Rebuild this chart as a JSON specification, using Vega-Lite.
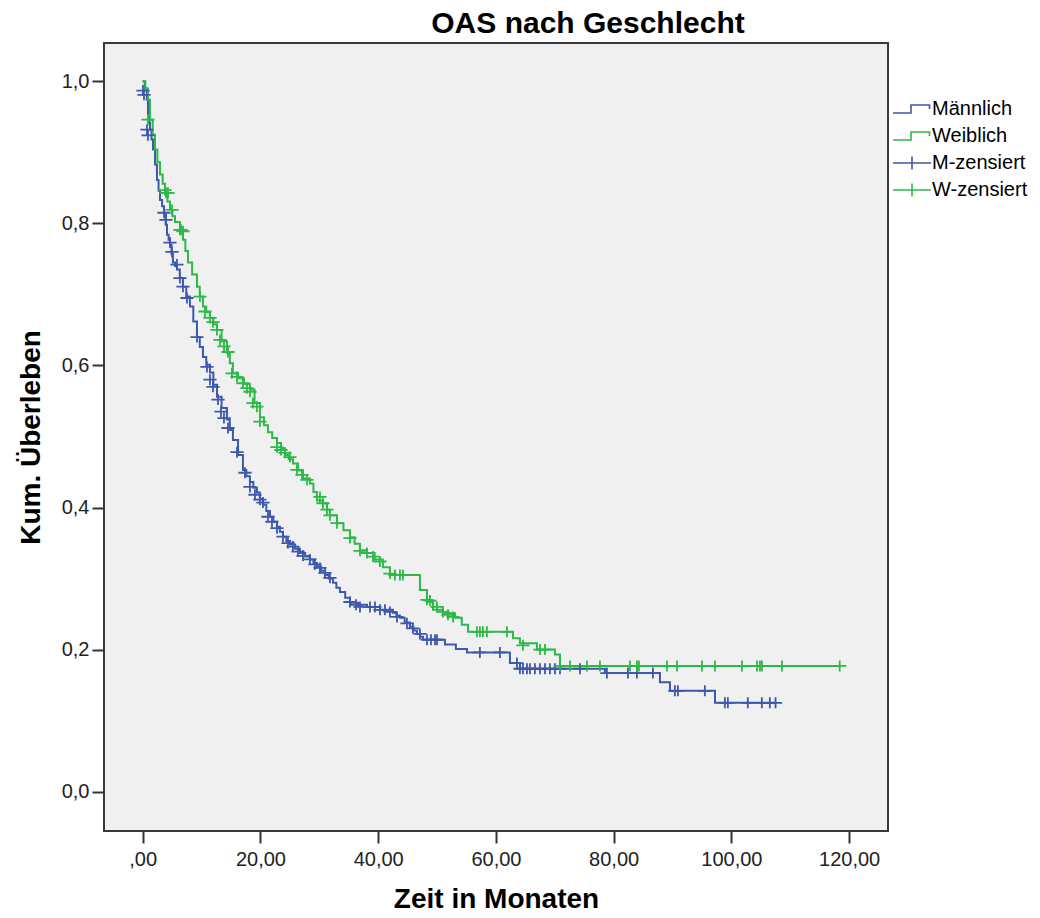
{
  "$schema": "https://vega.github.io/schema/vega-lite/v6.json",
  "autosize": {"type": "none"},
  "width": 784,
  "height": 788,
  "padding": {"left": 104, "top": 43, "right": 152, "bottom": 87},
  "background": "white",
  "title": {"text": "OAS nach Geschlecht", "fontSize": 30, "font": "Liberation Sans", "fontWeight": "bold", "color": "#000000", "dx": 92, "offset": 4},
  "datasets": {
    "curves": [
      {"series": "Männlich", "t": 0, "S": 1},
      {"series": "Männlich", "t": 0.35, "S": 0.99},
      {"series": "Männlich", "t": 0.7, "S": 0.974},
      {"series": "Männlich", "t": 0.9, "S": 0.953},
      {"series": "Männlich", "t": 1.07, "S": 0.942},
      {"series": "Männlich", "t": 1.24, "S": 0.932},
      {"series": "Männlich", "t": 1.5, "S": 0.918},
      {"series": "Männlich", "t": 1.75, "S": 0.904},
      {"series": "Männlich", "t": 2.1, "S": 0.883},
      {"series": "Männlich", "t": 2.43, "S": 0.861},
      {"series": "Männlich", "t": 2.7, "S": 0.846},
      {"series": "Männlich", "t": 2.94, "S": 0.833},
      {"series": "Männlich", "t": 3.3, "S": 0.824},
      {"series": "Männlich", "t": 3.62, "S": 0.815},
      {"series": "Männlich", "t": 3.9, "S": 0.798},
      {"series": "Männlich", "t": 4.13, "S": 0.784},
      {"series": "Männlich", "t": 4.4, "S": 0.777},
      {"series": "Männlich", "t": 4.64, "S": 0.77},
      {"series": "Männlich", "t": 4.9, "S": 0.757},
      {"series": "Männlich", "t": 5.14, "S": 0.745},
      {"series": "Männlich", "t": 5.5, "S": 0.74},
      {"series": "Männlich", "t": 5.82, "S": 0.735},
      {"series": "Männlich", "t": 6.3, "S": 0.723},
      {"series": "Männlich", "t": 6.84, "S": 0.711},
      {"series": "Männlich", "t": 7.4, "S": 0.697},
      {"series": "Männlich", "t": 8.03, "S": 0.683},
      {"series": "Männlich", "t": 8.6, "S": 0.662},
      {"series": "Männlich", "t": 9.22, "S": 0.64},
      {"series": "Männlich", "t": 9.7, "S": 0.626},
      {"series": "Männlich", "t": 10.24, "S": 0.612},
      {"series": "Männlich", "t": 10.8, "S": 0.601},
      {"series": "Männlich", "t": 11.43, "S": 0.59},
      {"series": "Männlich", "t": 12.0, "S": 0.573},
      {"series": "Männlich", "t": 12.62, "S": 0.556},
      {"series": "Männlich", "t": 13.4, "S": 0.54},
      {"series": "Männlich", "t": 14.31, "S": 0.524},
      {"series": "Männlich", "t": 14.8, "S": 0.509},
      {"series": "Männlich", "t": 15.33, "S": 0.495},
      {"series": "Männlich", "t": 16.2, "S": 0.474},
      {"series": "Männlich", "t": 17.03, "S": 0.453},
      {"series": "Männlich", "t": 17.6, "S": 0.444},
      {"series": "Männlich", "t": 18.22, "S": 0.436},
      {"series": "Männlich", "t": 18.8, "S": 0.428},
      {"series": "Männlich", "t": 19.41, "S": 0.421},
      {"series": "Männlich", "t": 19.9, "S": 0.412},
      {"series": "Männlich", "t": 20.43, "S": 0.404},
      {"series": "Männlich", "t": 21.0, "S": 0.395},
      {"series": "Männlich", "t": 21.62, "S": 0.387},
      {"series": "Männlich", "t": 22.2, "S": 0.38},
      {"series": "Männlich", "t": 22.81, "S": 0.373},
      {"series": "Männlich", "t": 23.3, "S": 0.366},
      {"series": "Männlich", "t": 23.83, "S": 0.359},
      {"series": "Männlich", "t": 24.4, "S": 0.353},
      {"series": "Männlich", "t": 25.02, "S": 0.348},
      {"series": "Männlich", "t": 25.9, "S": 0.342},
      {"series": "Männlich", "t": 26.71, "S": 0.336},
      {"series": "Männlich", "t": 27.6, "S": 0.331},
      {"series": "Männlich", "t": 28.41, "S": 0.327},
      {"series": "Männlich", "t": 29.0, "S": 0.322},
      {"series": "Männlich", "t": 29.6, "S": 0.317},
      {"series": "Männlich", "t": 30.3, "S": 0.311},
      {"series": "Männlich", "t": 30.96, "S": 0.305},
      {"series": "Männlich", "t": 31.6, "S": 0.3},
      {"series": "Männlich", "t": 32.32, "S": 0.294},
      {"series": "Männlich", "t": 32.9, "S": 0.287},
      {"series": "Männlich", "t": 33.51, "S": 0.281},
      {"series": "Männlich", "t": 34.4, "S": 0.273},
      {"series": "Männlich", "t": 35.21, "S": 0.266},
      {"series": "Männlich", "t": 36.6, "S": 0.263},
      {"series": "Männlich", "t": 38.1, "S": 0.26},
      {"series": "Männlich", "t": 40.3, "S": 0.256},
      {"series": "Männlich", "t": 42.51, "S": 0.252},
      {"series": "Männlich", "t": 43.1, "S": 0.248},
      {"series": "Männlich", "t": 43.7, "S": 0.245},
      {"series": "Männlich", "t": 44.5, "S": 0.238},
      {"series": "Männlich", "t": 45.4, "S": 0.232},
      {"series": "Männlich", "t": 46.0, "S": 0.227},
      {"series": "Männlich", "t": 46.59, "S": 0.222},
      {"series": "Männlich", "t": 47.1, "S": 0.218},
      {"series": "Männlich", "t": 47.61, "S": 0.214},
      {"series": "Männlich", "t": 51.34, "S": 0.207},
      {"series": "Männlich", "t": 53.2, "S": 0.201},
      {"series": "Männlich", "t": 55.08, "S": 0.196},
      {"series": "Männlich", "t": 62.38, "S": 0.181},
      {"series": "Männlich", "t": 64.08, "S": 0.173},
      {"series": "Männlich", "t": 78.52, "S": 0.167},
      {"series": "Männlich", "t": 87.86, "S": 0.154},
      {"series": "Männlich", "t": 89.56, "S": 0.142},
      {"series": "Männlich", "t": 97.21, "S": 0.125},
      {"series": "Männlich", "t": 107.5, "S": 0.125},
      {"series": "Weiblich", "t": 0, "S": 1},
      {"series": "Weiblich", "t": 0.45, "S": 0.99},
      {"series": "Weiblich", "t": 0.9, "S": 0.974},
      {"series": "Weiblich", "t": 1.24, "S": 0.946},
      {"series": "Weiblich", "t": 1.7, "S": 0.925},
      {"series": "Weiblich", "t": 2.09, "S": 0.904},
      {"series": "Weiblich", "t": 2.5, "S": 0.886},
      {"series": "Weiblich", "t": 2.94, "S": 0.869},
      {"series": "Weiblich", "t": 3.4, "S": 0.856},
      {"series": "Weiblich", "t": 3.79, "S": 0.843},
      {"series": "Weiblich", "t": 4.2, "S": 0.831},
      {"series": "Weiblich", "t": 4.64, "S": 0.819},
      {"series": "Weiblich", "t": 5.05, "S": 0.81},
      {"series": "Weiblich", "t": 5.49, "S": 0.802},
      {"series": "Weiblich", "t": 6.33, "S": 0.791},
      {"series": "Weiblich", "t": 6.84, "S": 0.777},
      {"series": "Weiblich", "t": 7.25, "S": 0.761},
      {"series": "Weiblich", "t": 7.69, "S": 0.745},
      {"series": "Weiblich", "t": 8.4, "S": 0.728},
      {"series": "Weiblich", "t": 9.22, "S": 0.711},
      {"series": "Weiblich", "t": 9.7, "S": 0.697},
      {"series": "Weiblich", "t": 10.24, "S": 0.683},
      {"series": "Weiblich", "t": 10.8, "S": 0.675},
      {"series": "Weiblich", "t": 11.43, "S": 0.667},
      {"series": "Weiblich", "t": 12.0, "S": 0.658},
      {"series": "Weiblich", "t": 12.62, "S": 0.65},
      {"series": "Weiblich", "t": 13.4, "S": 0.634},
      {"series": "Weiblich", "t": 14.31, "S": 0.618},
      {"series": "Weiblich", "t": 14.8, "S": 0.603},
      {"series": "Weiblich", "t": 15.33, "S": 0.589},
      {"series": "Weiblich", "t": 16.2, "S": 0.582},
      {"series": "Weiblich", "t": 17.2, "S": 0.574},
      {"series": "Weiblich", "t": 18.22, "S": 0.566},
      {"series": "Weiblich", "t": 19.0, "S": 0.547},
      {"series": "Weiblich", "t": 19.92, "S": 0.527},
      {"series": "Weiblich", "t": 20.6, "S": 0.516},
      {"series": "Weiblich", "t": 21.28, "S": 0.506},
      {"series": "Weiblich", "t": 22.0, "S": 0.498},
      {"series": "Weiblich", "t": 22.81, "S": 0.491},
      {"series": "Weiblich", "t": 23.5, "S": 0.483},
      {"series": "Weiblich", "t": 24.17, "S": 0.474},
      {"series": "Weiblich", "t": 24.8, "S": 0.468},
      {"series": "Weiblich", "t": 25.53, "S": 0.462},
      {"series": "Weiblich", "t": 26.4, "S": 0.452},
      {"series": "Weiblich", "t": 27.23, "S": 0.441},
      {"series": "Weiblich", "t": 28.41, "S": 0.434},
      {"series": "Weiblich", "t": 29.0, "S": 0.422},
      {"series": "Weiblich", "t": 29.6, "S": 0.41},
      {"series": "Weiblich", "t": 30.62, "S": 0.406},
      {"series": "Weiblich", "t": 31.3, "S": 0.397},
      {"series": "Weiblich", "t": 31.8, "S": 0.389},
      {"series": "Weiblich", "t": 33.0, "S": 0.378},
      {"series": "Weiblich", "t": 34.1, "S": 0.368},
      {"series": "Weiblich", "t": 35.21, "S": 0.358},
      {"series": "Weiblich", "t": 36.0, "S": 0.349},
      {"series": "Weiblich", "t": 36.9, "S": 0.34},
      {"series": "Weiblich", "t": 38.1, "S": 0.336},
      {"series": "Weiblich", "t": 39.4, "S": 0.327},
      {"series": "Weiblich", "t": 40.81, "S": 0.316},
      {"series": "Weiblich", "t": 42.0, "S": 0.305},
      {"series": "Weiblich", "t": 47.1, "S": 0.284},
      {"series": "Weiblich", "t": 48.29, "S": 0.267},
      {"series": "Weiblich", "t": 49.31, "S": 0.256},
      {"series": "Weiblich", "t": 51.0, "S": 0.251},
      {"series": "Weiblich", "t": 53.05, "S": 0.245},
      {"series": "Weiblich", "t": 54.2, "S": 0.235},
      {"series": "Weiblich", "t": 55.26, "S": 0.225},
      {"series": "Weiblich", "t": 62.9, "S": 0.216},
      {"series": "Weiblich", "t": 64.08, "S": 0.209},
      {"series": "Weiblich", "t": 66.97, "S": 0.2},
      {"series": "Weiblich", "t": 70.03, "S": 0.193},
      {"series": "Weiblich", "t": 70.88, "S": 0.177},
      {"series": "Weiblich", "t": 118.4, "S": 0.177}
    ],
    "censors": [
      {"series": "M-zensiert", "t": 0.05, "S": 0.987},
      {"series": "M-zensiert", "t": 0.22, "S": 0.981},
      {"series": "M-zensiert", "t": 0.73, "S": 0.932},
      {"series": "M-zensiert", "t": 0.9, "S": 0.924},
      {"series": "M-zensiert", "t": 3.62, "S": 0.815},
      {"series": "M-zensiert", "t": 3.96, "S": 0.805},
      {"series": "M-zensiert", "t": 4.64, "S": 0.773},
      {"series": "M-zensiert", "t": 4.98, "S": 0.76},
      {"series": "M-zensiert", "t": 5.82, "S": 0.742},
      {"series": "M-zensiert", "t": 6.33, "S": 0.723},
      {"series": "M-zensiert", "t": 6.84, "S": 0.711},
      {"series": "M-zensiert", "t": 7.52, "S": 0.695},
      {"series": "M-zensiert", "t": 9.22, "S": 0.64},
      {"series": "M-zensiert", "t": 10.92, "S": 0.598},
      {"series": "M-zensiert", "t": 11.43, "S": 0.58},
      {"series": "M-zensiert", "t": 11.94, "S": 0.57},
      {"series": "M-zensiert", "t": 12.79, "S": 0.552},
      {"series": "M-zensiert", "t": 13.3, "S": 0.535},
      {"series": "M-zensiert", "t": 13.81, "S": 0.526},
      {"series": "M-zensiert", "t": 14.49, "S": 0.512},
      {"series": "M-zensiert", "t": 16.02, "S": 0.478},
      {"series": "M-zensiert", "t": 17.37, "S": 0.449},
      {"series": "M-zensiert", "t": 18.22, "S": 0.429},
      {"series": "M-zensiert", "t": 19.07, "S": 0.418},
      {"series": "M-zensiert", "t": 19.92, "S": 0.411},
      {"series": "M-zensiert", "t": 20.43, "S": 0.407},
      {"series": "M-zensiert", "t": 21.28, "S": 0.387},
      {"series": "M-zensiert", "t": 21.96, "S": 0.38},
      {"series": "M-zensiert", "t": 22.81, "S": 0.371},
      {"series": "M-zensiert", "t": 23.83, "S": 0.359},
      {"series": "M-zensiert", "t": 24.68, "S": 0.35},
      {"series": "M-zensiert", "t": 25.53, "S": 0.345},
      {"series": "M-zensiert", "t": 26.38, "S": 0.338},
      {"series": "M-zensiert", "t": 27.23, "S": 0.332},
      {"series": "M-zensiert", "t": 28.41, "S": 0.327},
      {"series": "M-zensiert", "t": 29.26, "S": 0.32},
      {"series": "M-zensiert", "t": 30.11, "S": 0.315},
      {"series": "M-zensiert", "t": 30.96, "S": 0.308},
      {"series": "M-zensiert", "t": 31.81, "S": 0.301},
      {"series": "M-zensiert", "t": 35.21, "S": 0.267},
      {"series": "M-zensiert", "t": 36.23, "S": 0.263},
      {"series": "M-zensiert", "t": 36.91, "S": 0.26},
      {"series": "M-zensiert", "t": 38.61, "S": 0.26},
      {"series": "M-zensiert", "t": 39.46, "S": 0.26},
      {"series": "M-zensiert", "t": 40.3, "S": 0.256},
      {"series": "M-zensiert", "t": 41.15, "S": 0.256},
      {"series": "M-zensiert", "t": 42.0, "S": 0.253},
      {"series": "M-zensiert", "t": 43.19, "S": 0.246},
      {"series": "M-zensiert", "t": 44.89, "S": 0.237},
      {"series": "M-zensiert", "t": 45.91, "S": 0.23},
      {"series": "M-zensiert", "t": 47.1, "S": 0.222},
      {"series": "M-zensiert", "t": 48.29, "S": 0.214},
      {"series": "M-zensiert", "t": 48.97, "S": 0.214},
      {"series": "M-zensiert", "t": 49.65, "S": 0.214},
      {"series": "M-zensiert", "t": 49.99, "S": 0.214},
      {"series": "M-zensiert", "t": 57.28, "S": 0.196},
      {"series": "M-zensiert", "t": 60.68, "S": 0.196},
      {"series": "M-zensiert", "t": 63.57, "S": 0.181},
      {"series": "M-zensiert", "t": 64.08, "S": 0.173},
      {"series": "M-zensiert", "t": 64.59, "S": 0.173},
      {"series": "M-zensiert", "t": 65.27, "S": 0.173},
      {"series": "M-zensiert", "t": 65.78, "S": 0.173},
      {"series": "M-zensiert", "t": 66.63, "S": 0.173},
      {"series": "M-zensiert", "t": 67.48, "S": 0.173},
      {"series": "M-zensiert", "t": 68.33, "S": 0.173},
      {"series": "M-zensiert", "t": 69.18, "S": 0.173},
      {"series": "M-zensiert", "t": 70.03, "S": 0.173},
      {"series": "M-zensiert", "t": 70.88, "S": 0.173},
      {"series": "M-zensiert", "t": 74.28, "S": 0.173},
      {"series": "M-zensiert", "t": 78.85, "S": 0.167},
      {"series": "M-zensiert", "t": 82.42, "S": 0.167},
      {"series": "M-zensiert", "t": 83.95, "S": 0.167},
      {"series": "M-zensiert", "t": 86.67, "S": 0.167},
      {"series": "M-zensiert", "t": 90.4, "S": 0.142},
      {"series": "M-zensiert", "t": 90.91, "S": 0.142},
      {"series": "M-zensiert", "t": 95.49, "S": 0.142},
      {"series": "M-zensiert", "t": 98.89, "S": 0.125},
      {"series": "M-zensiert", "t": 99.4, "S": 0.125},
      {"series": "M-zensiert", "t": 102.79, "S": 0.125},
      {"series": "M-zensiert", "t": 105.17, "S": 0.125},
      {"series": "M-zensiert", "t": 106.53, "S": 0.125},
      {"series": "M-zensiert", "t": 107.5, "S": 0.125},
      {"series": "W-zensiert", "t": 0.9, "S": 0.946},
      {"series": "W-zensiert", "t": 3.79, "S": 0.847},
      {"series": "W-zensiert", "t": 3.96, "S": 0.843},
      {"series": "W-zensiert", "t": 4.3, "S": 0.843},
      {"series": "W-zensiert", "t": 4.98, "S": 0.819},
      {"series": "W-zensiert", "t": 6.33, "S": 0.791},
      {"series": "W-zensiert", "t": 6.5, "S": 0.791},
      {"series": "W-zensiert", "t": 6.84, "S": 0.789},
      {"series": "W-zensiert", "t": 9.73, "S": 0.697},
      {"series": "W-zensiert", "t": 10.58, "S": 0.676},
      {"series": "W-zensiert", "t": 11.43, "S": 0.667},
      {"series": "W-zensiert", "t": 11.94, "S": 0.661},
      {"series": "W-zensiert", "t": 12.62, "S": 0.65},
      {"series": "W-zensiert", "t": 13.13, "S": 0.636},
      {"series": "W-zensiert", "t": 13.81, "S": 0.627},
      {"series": "W-zensiert", "t": 14.49, "S": 0.619},
      {"series": "W-zensiert", "t": 15.16, "S": 0.589},
      {"series": "W-zensiert", "t": 16.02, "S": 0.584},
      {"series": "W-zensiert", "t": 17.03, "S": 0.575},
      {"series": "W-zensiert", "t": 17.71, "S": 0.568},
      {"series": "W-zensiert", "t": 18.22, "S": 0.563},
      {"series": "W-zensiert", "t": 18.73, "S": 0.547},
      {"series": "W-zensiert", "t": 19.41, "S": 0.542},
      {"series": "W-zensiert", "t": 19.92, "S": 0.521},
      {"series": "W-zensiert", "t": 22.81, "S": 0.485},
      {"series": "W-zensiert", "t": 23.49, "S": 0.481},
      {"series": "W-zensiert", "t": 24.17, "S": 0.477},
      {"series": "W-zensiert", "t": 25.02, "S": 0.471},
      {"series": "W-zensiert", "t": 26.21, "S": 0.453},
      {"series": "W-zensiert", "t": 27.06, "S": 0.446},
      {"series": "W-zensiert", "t": 27.91, "S": 0.439},
      {"series": "W-zensiert", "t": 30.11, "S": 0.415},
      {"series": "W-zensiert", "t": 30.62, "S": 0.406},
      {"series": "W-zensiert", "t": 31.3, "S": 0.397},
      {"series": "W-zensiert", "t": 31.81, "S": 0.389},
      {"series": "W-zensiert", "t": 33.0, "S": 0.378},
      {"series": "W-zensiert", "t": 35.21, "S": 0.357},
      {"series": "W-zensiert", "t": 36.91, "S": 0.339},
      {"series": "W-zensiert", "t": 38.1, "S": 0.336},
      {"series": "W-zensiert", "t": 39.12, "S": 0.331},
      {"series": "W-zensiert", "t": 40.3, "S": 0.324},
      {"series": "W-zensiert", "t": 42.0, "S": 0.307},
      {"series": "W-zensiert", "t": 42.85, "S": 0.305},
      {"series": "W-zensiert", "t": 43.7, "S": 0.305},
      {"series": "W-zensiert", "t": 44.21, "S": 0.305},
      {"series": "W-zensiert", "t": 48.29, "S": 0.27},
      {"series": "W-zensiert", "t": 48.8, "S": 0.269},
      {"series": "W-zensiert", "t": 49.99, "S": 0.26},
      {"series": "W-zensiert", "t": 51.01, "S": 0.253},
      {"series": "W-zensiert", "t": 51.86, "S": 0.249},
      {"series": "W-zensiert", "t": 52.71, "S": 0.246},
      {"series": "W-zensiert", "t": 56.78, "S": 0.225},
      {"series": "W-zensiert", "t": 57.28, "S": 0.225},
      {"series": "W-zensiert", "t": 57.79, "S": 0.225},
      {"series": "W-zensiert", "t": 58.47, "S": 0.225},
      {"series": "W-zensiert", "t": 61.87, "S": 0.225},
      {"series": "W-zensiert", "t": 64.59, "S": 0.206},
      {"series": "W-zensiert", "t": 67.48, "S": 0.2},
      {"series": "W-zensiert", "t": 68.33, "S": 0.2},
      {"series": "W-zensiert", "t": 70.88, "S": 0.177},
      {"series": "W-zensiert", "t": 72.58, "S": 0.177},
      {"series": "W-zensiert", "t": 75.46, "S": 0.177},
      {"series": "W-zensiert", "t": 77.67, "S": 0.177},
      {"series": "W-zensiert", "t": 82.77, "S": 0.177},
      {"series": "W-zensiert", "t": 83.95, "S": 0.177},
      {"series": "W-zensiert", "t": 84.29, "S": 0.177},
      {"series": "W-zensiert", "t": 89.05, "S": 0.177},
      {"series": "W-zensiert", "t": 90.75, "S": 0.177},
      {"series": "W-zensiert", "t": 95.0, "S": 0.177},
      {"series": "W-zensiert", "t": 97.21, "S": 0.177},
      {"series": "W-zensiert", "t": 101.79, "S": 0.177},
      {"series": "W-zensiert", "t": 104.34, "S": 0.177},
      {"series": "W-zensiert", "t": 104.85, "S": 0.177},
      {"series": "W-zensiert", "t": 105.19, "S": 0.177},
      {"series": "W-zensiert", "t": 108.59, "S": 0.177},
      {"series": "W-zensiert", "t": 118.4, "S": 0.177}
    ]
  },
  "layer": [
    {
      "data": {"name": "curves"},
      "mark": {"type": "line", "interpolate": "step-after", "strokeWidth": 2},
      "encoding": {
        "x": {"field": "t", "type": "quantitative"},
        "y": {"field": "S", "type": "quantitative"},
        "color": {"field": "series", "type": "nominal"},
        "detail": {"field": "series"}
      }
    },
    {
      "data": {"name": "censors"},
      "mark": {"type": "point", "shape": "M-1.2,0L1.2,0M0,-1L0,1", "filled": false, "size": 121, "strokeWidth": 1.8, "opacity": 1},
      "encoding": {
        "x": {"field": "t", "type": "quantitative"},
        "y": {"field": "S", "type": "quantitative"},
        "color": {"field": "series", "type": "nominal"}
      }
    }
  ],
  "encoding": {
    "x": {
      "field": "t", "type": "quantitative",
      "scale": {"domain": [-6.57, 126.6], "nice": false, "zero": false},
      "axis": {
        "values": [0, 20, 40, 60, 80, 100, 120],
        "title": "Zeit in Monaten",
        "labelExpr": "datum.value == 0 ? ',00' : replace(format(datum.value, '.2f'), '.', ',')",
        "titlePadding": 16
      }
    },
    "y": {
      "field": "S", "type": "quantitative",
      "scale": {"domain": [-0.0554, 1.054], "nice": false, "zero": false},
      "axis": {
        "values": [0, 0.2, 0.4, 0.6, 0.8, 1.0],
        "title": "Kum. Überleben",
        "labelExpr": "replace(format(datum.value, '.1f'), '.', ',')",
        "titlePadding": 16
      }
    },
    "color": {
      "field": "series", "type": "nominal",
      "scale": {
        "domain": ["Männlich", "Weiblich", "M-zensiert", "W-zensiert"],
        "range": ["#3e58ac", "#2eb848", "#3e58ac", "#2eb848"]
      },
      "legend": {
        "title": null,
        "orient": "none",
        "legendX": 797,
        "legendY": 55,
        "padding": 0,
        "symbolSize": 400,
        "rowPadding": 6,
        "labelOffset": 9,
        "labelFontSize": 20,
        "labelFont": "Liberation Sans",
        "labelColor": "#000000",
        "symbolStrokeWidth": 1.6,
        "encode": {
          "symbols": {
            "update": {
              "shape": {"signal": "(datum.value === 'Männlich' || datum.value === 'Weiblich') ? 'M-1.9,0.4L-0.1,0.4L-0.1,-0.4L1.75,-0.4L1.75,0' : 'M-1.9,0L1.9,0M0,-0.65L0,0.65'"},
              "fill": {"value": "transparent"},
              "strokeWidth": {"value": 1.6},
              "opacity": {"value": 1}
            }
          }
        }
      }
    }
  },
  "config": {
    "view": {"fill": "#f0f0f0", "stroke": "#3a3a3a", "strokeWidth": 2},
    "axis": {
      "domain": false,
      "grid": false,
      "ticks": true,
      "tickSize": 12,
      "tickWidth": 2,
      "tickColor": "#333333",
      "labelFont": "Liberation Sans",
      "labelFontSize": 20,
      "labelColor": "#222222",
      "titleFont": "Liberation Sans",
      "titleFontSize": 28,
      "titleFontWeight": "bold",
      "titleColor": "#000000"
    },
    "axisX": {"labelPadding": 6},
    "axisY": {"labelPadding": 3}
  }
}
